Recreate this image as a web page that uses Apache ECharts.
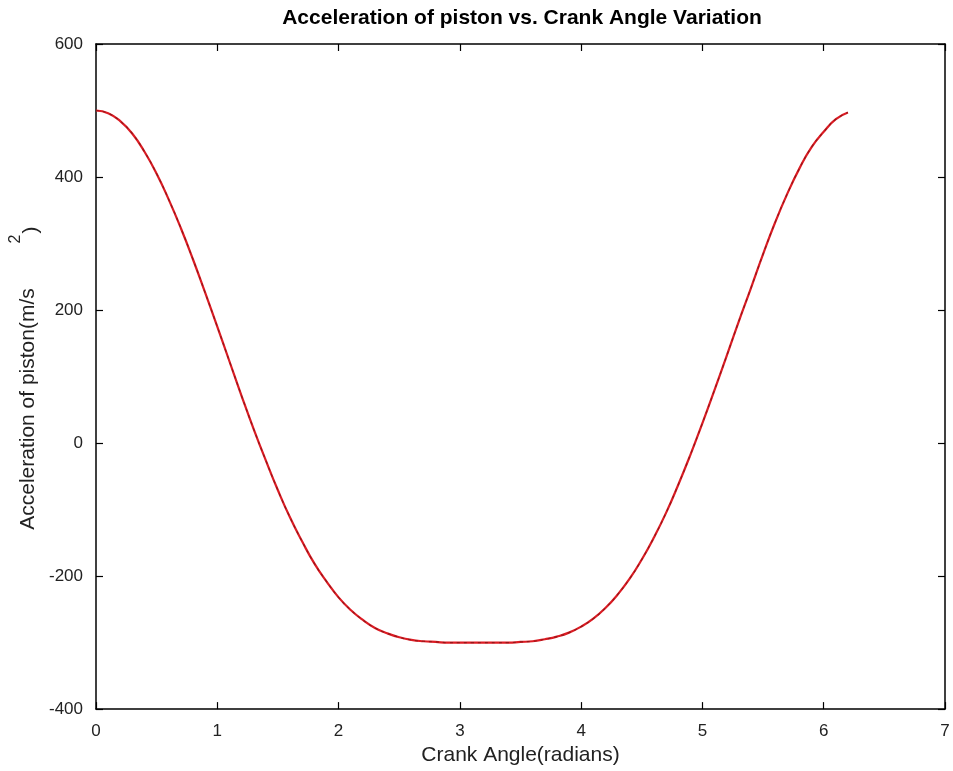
<!DOCTYPE html>
<html>
<head>
<meta charset="utf-8">
<script src="https://cdn.jsdelivr.net/npm/echarts@6/dist/echarts.min.js"></script>
<style>
  html, body { margin: 0; padding: 0; background: #ffffff; }
  #chart { width: 953px; height: 771px; }
</style>
</head>
<body>
<div id="chart"></div>
<script>
// Crank angle samples (radians) and the piston acceleration at each one (m/s^2)
const crankAngle = [
  0.0, 0.1, 0.2, 0.3, 0.4, 0.5, 0.6, 0.7, 0.8, 0.9,
  1.0, 1.1, 1.2, 1.3, 1.4, 1.5, 1.6, 1.7, 1.8, 1.9,
  2.0, 2.1, 2.2, 2.3, 2.4, 2.5, 2.6, 2.7, 2.8, 2.9,
  3.0, 3.1, 3.2, 3.3, 3.4, 3.5, 3.6, 3.7, 3.8, 3.9,
  4.0, 4.1, 4.2, 4.3, 4.4, 4.5, 4.6, 4.7, 4.8, 4.9,
  5.0, 5.1, 5.2, 5.3, 5.4, 5.5, 5.6, 5.7, 5.8, 5.9,
  6.0, 6.1, 6.2
];
const pistonAcceleration = [
  500, 496, 484, 465, 438, 405, 366, 323, 276, 226,
  175, 123, 71, 21, -26, -71, -112, -148, -181, -208,
  -232, -251, -266, -278, -286, -292, -296, -298, -299, -300,
  -300, -300, -300, -300, -300, -299, -298, -295, -291, -285,
  -276, -264, -248, -228, -204, -175, -142, -105, -63, -18,
  30, 80, 131, 183, 233, 284, 332, 375, 413, 445,
  468, 487, 497
];
const xTickValues = [0, 1, 2, 3, 4, 5, 6, 7];
const yTickValues = [-400, -200, 0, 200, 400, 600];

const chartTitle = 'Acceleration of piston vs. Crank Angle Variation';
const xAxisTitle = 'Crank Angle(radians)';
const yAxisTitleMain = 'Acceleration of piston(m/s';
const yAxisTitleSup = '2';
const yAxisTitleClose = ')';

const FONT = "'Liberation Sans', Arial, Helvetica, sans-serif";
const points = crankAngle.map((a, i) => [a, pistonAcceleration[i]]);

const chart = echarts.init(document.getElementById('chart'), null, { renderer: 'canvas' });

const xStep = xTickValues[1] - xTickValues[0];
const yStep = yTickValues[1] - yTickValues[0];

// Boxed frame: every side gets an axis line with inward ticks
function frameAxis(base) {
  return Object.assign({
    type: 'value',
    axisLine: { show: true, onZero: false, lineStyle: { color: '#000', width: 1.5 } },
    axisTick: { show: true, inside: true, length: 7, lineStyle: { color: '#000', width: 1.2 } },
    splitLine: { show: false }
  }, base);
}

chart.setOption({
  backgroundColor: '#ffffff',
  animation: false,
  grid: { left: 96, right: 8, top: 44, bottom: 59, containLabel: false },
  graphic: [
    {
      type: 'text', x: 522, y: 18,
      style: { text: chartTitle, font: 'bold 21px ' + FONT, fill: '#000', align: 'center', verticalAlign: 'middle' }
    },
    {
      type: 'text', x: 28, y: 409, rotation: Math.PI / 2,
      style: { text: yAxisTitleMain, font: '21px ' + FONT, fill: '#222', align: 'center', verticalAlign: 'middle' }
    },
    {
      type: 'text', x: 16, y: 239, rotation: Math.PI / 2,
      style: { text: yAxisTitleSup, font: '16px ' + FONT, fill: '#222', align: 'center', verticalAlign: 'middle' }
    },
    {
      type: 'text', x: 31, y: 230, rotation: Math.PI / 2,
      style: { text: yAxisTitleClose, font: '21px ' + FONT, fill: '#222', align: 'center', verticalAlign: 'middle' }
    }
  ],
  xAxis: [
    frameAxis({
      position: 'bottom',
      min: xTickValues[0], max: xTickValues[xTickValues.length - 1], interval: xStep,
      name: xAxisTitle, nameLocation: 'middle', nameGap: 35,
      nameTextStyle: { fontFamily: FONT, fontSize: 21, color: '#222' },
      axisLabel: { fontFamily: FONT, fontSize: 17, color: '#222', margin: 14 }
    }),
    frameAxis({
      position: 'top',
      min: xTickValues[0], max: xTickValues[xTickValues.length - 1], interval: xStep,
      axisLabel: { show: false }
    })
  ],
  yAxis: [
    frameAxis({
      position: 'left',
      min: yTickValues[0], max: yTickValues[yTickValues.length - 1], interval: yStep,
      axisLabel: { fontFamily: FONT, fontSize: 17, color: '#222', margin: 13 }
    }),
    frameAxis({
      position: 'right',
      min: yTickValues[0], max: yTickValues[yTickValues.length - 1], interval: yStep,
      axisLabel: { show: false }
    })
  ],
  series: [
    {
      type: 'line', data: points, showSymbol: false, smooth: true,
      lineStyle: { color: '#dc1c24', width: 2.2 }
    },
    {
      type: 'line', data: points, showSymbol: false, smooth: true,
      lineStyle: { color: '#7a1414', width: 1.2, type: [3, 4], opacity: 0.7 }
    }
  ]
});
</script>
</body>
</html>
